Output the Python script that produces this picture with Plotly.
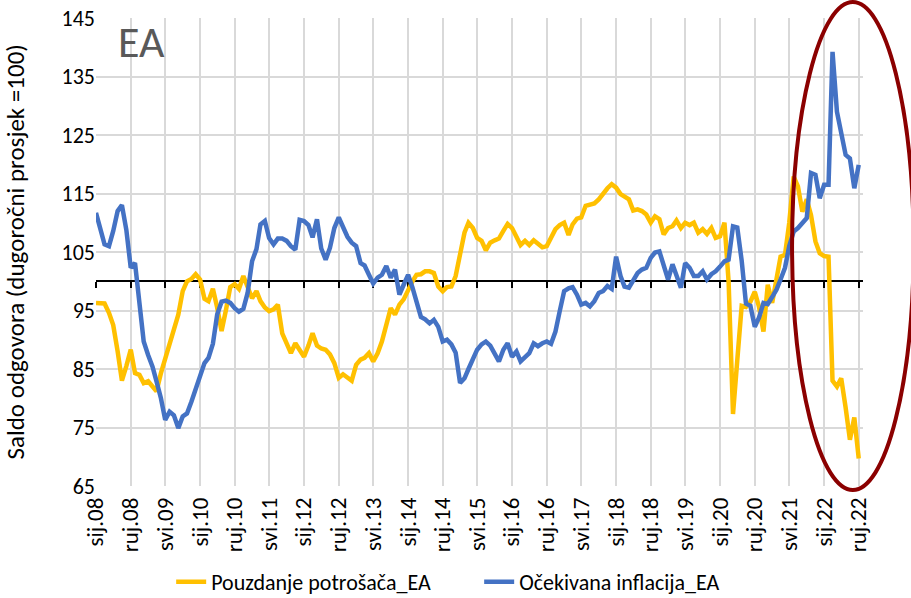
import pandas as pd
import plotly.graph_objects as go

# Monthly dates Jan 2008 - Sep 2022
months = pd.date_range("2008-01-01", "2022-09-01", freq="MS")

pouzdanje = [
    96.3, 96.3, 96.2, 94.6, 92.5, 88.0, 83.0, 85.5, 88.3, 84.3, 84.0, 82.6,
    82.9, 82.0, 81.2, 84.3, 86.9, 89.1, 91.7, 94.3, 98.3, 100.0, 100.4, 101.2,
    100.3, 97.0, 96.6, 98.7, 95.5, 91.5, 95.0, 99.0, 99.5, 98.7, 100.9, 98.9,
    97.1, 98.3, 96.6, 95.5, 94.9, 95.2, 96.0, 91.1, 89.5, 87.7, 89.4, 88.2,
    87.1, 89.0, 91.1, 89.0, 88.5, 88.3, 87.5, 86.0, 83.5, 84.1, 83.5, 83.0,
    85.7, 86.6, 86.9, 87.7, 86.3, 87.7, 89.7, 92.6, 95.4, 94.3, 96.0, 96.9,
    98.6, 100.0, 101.1, 101.2, 101.7, 101.7, 101.4, 99.1, 98.3, 99.0, 99.1, 100.9,
    104.6, 108.3, 110.0, 109.1, 107.4, 106.9, 105.3, 106.6, 107.0, 107.3, 108.6, 109.8,
    109.1, 107.4, 106.2, 106.9, 106.2, 107.0, 106.3, 105.8, 106.0, 107.5, 108.9, 109.6,
    110.0, 107.9, 109.7, 110.7, 110.9, 112.9, 113.1, 113.3, 114.0, 115.1, 115.9, 116.6,
    116.0, 114.9, 114.4, 114.0, 112.1, 112.3, 112.0, 111.4, 110.0, 111.1, 110.6, 108.0,
    109.1, 109.4, 110.4, 109.1, 110.0, 109.6, 110.0, 108.3, 108.9, 108.1, 109.1, 107.4,
    107.7, 110.0, 100.0, 77.3, 86.5, 95.8, 95.6, 96.5, 98.2, 95.6, 91.4, 99.4,
    96.3, 100.5, 104.2, 104.5, 110.0, 117.9, 116.2, 111.9, 114.0, 111.3, 106.8, 104.8,
    104.3, 104.2, 83.0, 82.0, 83.4, 78.4, 72.9, 76.7, 69.7,
]

inflacija = [
    111.7, 109.1, 106.3, 106.0, 108.6, 112.0, 113.0, 108.8, 102.3, 103.1, 95.4, 89.7,
    87.4, 85.4, 82.9, 80.0, 76.3, 77.7, 77.1, 74.9, 76.9, 77.4, 79.4, 81.7,
    84.0, 86.0, 86.9, 89.3, 94.3, 96.5, 96.7, 96.3, 95.4, 94.8, 95.3, 98.0,
    103.4, 105.5, 109.7, 110.3, 107.4, 106.3, 107.3, 107.3, 106.9, 106.0, 105.4, 110.5,
    110.3, 109.6, 107.5, 110.6, 105.6, 103.7, 105.7, 109.1, 110.9, 109.2, 107.6, 106.6,
    106.0, 103.1, 102.7, 101.1, 99.6, 100.6, 101.1, 102.6, 100.6, 102.0, 97.7, 99.4,
    101.1, 98.9, 96.5, 93.9, 93.5, 92.8, 93.4, 92.2, 89.7, 90.0, 89.2, 87.8,
    82.6, 83.4, 85.0, 86.8, 88.3, 89.2, 89.7, 89.0, 87.5, 86.3, 88.3, 89.4,
    87.1, 88.0, 86.3, 87.1, 87.7, 89.4, 88.9, 89.4, 89.7, 89.3, 91.4, 94.9,
    98.3, 98.8, 99.0, 97.7, 96.0, 96.3, 95.7, 96.6, 98.0, 98.3, 99.2, 98.7,
    104.2, 100.9, 99.1, 98.9, 100.0, 101.4, 102.0, 102.3, 104.0, 104.9, 105.1, 102.6,
    100.3, 102.9, 101.1, 98.9, 103.1, 102.3, 100.9, 100.9, 101.7, 100.3, 101.2, 101.7,
    102.5, 103.4, 103.7, 109.4, 109.2, 103.5, 96.2, 95.8, 92.2, 93.8, 96.3, 96.1,
    97.3, 98.6, 100.3, 102.3, 106.0, 108.5, 109.1, 109.9, 110.8, 118.5, 118.2, 114.2,
    116.5, 116.5, 139.2, 129.0, 125.0, 121.6, 121.0, 115.9, 119.9,
]

tick_dates = months[::8]
tick_labels = ["sij.08", "ruj.08", "svi.09", "sij.10", "ruj.10", "svi.11", "sij.12",
               "ruj.12", "svi.13", "sij.14", "ruj.14", "svi.15", "sij.16", "ruj.16",
               "svi.17", "sij.18", "ruj.18", "svi.19", "sij.20", "ruj.20", "svi.21",
               "sij.22", "ruj.22"]
y_ticks = [65, 75, 85, 95, 105, 115, 125, 135, 145]
baseline = 100

FONT = "Carlito, 'Liberation Sans Narrow', 'DejaVu Sans Condensed', 'Liberation Sans', sans-serif"

fig = go.Figure()
fig.add_trace(go.Scatter(x=months, y=pouzdanje, mode="lines", name="Pouzdanje potrošača_EA",
                         line=dict(color="#FFC000", width=4.5)))
fig.add_trace(go.Scatter(x=months, y=inflacija, mode="lines", name="Očekivana inflacija_EA",
                         line=dict(color="#4472C4", width=4.5)))
# invisible trace for the crossing axis at 100
fig.add_trace(go.Scatter(x=[months[0], months[-1]], y=[baseline, baseline], xaxis="x2",
                         mode="lines", line=dict(width=0), hoverinfo="skip", showlegend=False))

x_range = [months[0], pd.Timestamp("2022-10-01")]
y_min, y_max = y_ticks[0], y_ticks[-1]

fig.update_layout(
    width=911, height=598,
    margin=dict(l=96, r=48, t=18, b=112, autoexpand=False),
    paper_bgcolor="white", plot_bgcolor="white",
    font=dict(family=FONT, size=20, color="#000000"),
    xaxis=dict(range=x_range, tickvals=tick_dates, ticktext=tick_labels, tickangle=-90,
               showgrid=True, gridcolor="#D9D9D9", gridwidth=1.5, showline=False,
               zeroline=False, ticks="", tickfont=dict(size=23), automargin=False,
               ticklabelstandoff=6),
    xaxis2=dict(overlaying="x", matches="x", anchor="free",
                position=(baseline - y_min) / (y_max - y_min), side="bottom",
                tickvals=tick_dates, showticklabels=False, showgrid=False,
                showline=True, linecolor="black", linewidth=1.5,
                ticks="outside", ticklen=6, tickcolor="black", tickwidth=1.5,
                layer="below traces", automargin=False),
    yaxis=dict(range=[y_min, y_max], tickvals=y_ticks, showgrid=True, gridcolor="#D9D9D9",
               gridwidth=1.5, zeroline=False, showline=False, ticks="",
               tickfont=dict(size=22), automargin=False),
    legend=dict(orientation="h", x=0.098, xanchor="left", y=-0.205, yanchor="middle",
                font=dict(size=22), entrywidth=263, entrywidthmode="pixels"),
    showlegend=True,
)

fig.add_annotation(text="Saldo odgovora (dugoročni prosjek =100)", xref="paper", yref="paper",
                   x=-0.105, y=0.5, textangle=-90, showarrow=False,
                   xanchor="center", yanchor="middle", font=dict(size=25))

fig.add_annotation(text="EA", xref="paper", yref="paper", x=0.026, y=1.01,
                   xanchor="left", yanchor="top", showarrow=False,
                   font=dict(size=44, color="#595959"))

fig.add_shape(type="circle", xref="paper", yref="paper",
              x0=0.9075, x1=1.066, y0=-0.0085, y1=1.034,
              line=dict(color="#8B0000", width=4), layer="above")

fig.write_html("out.html", config={"displayModeBar": False},
               post_script="document.body.style.margin='0';")
